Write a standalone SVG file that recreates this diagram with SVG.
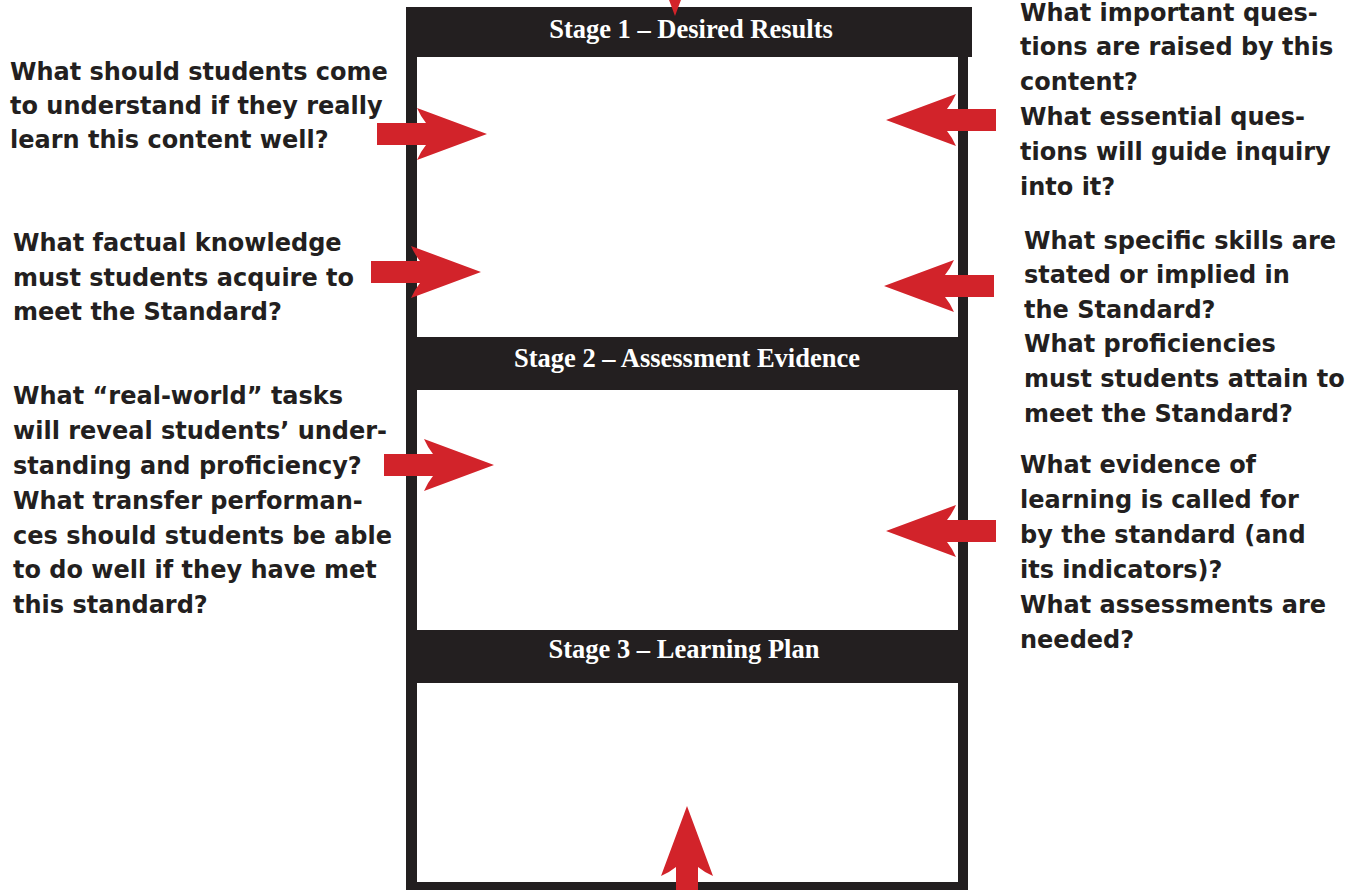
<svg xmlns="http://www.w3.org/2000/svg" xmlns:xlink="http://www.w3.org/1999/xlink" width="1358" height="890" viewBox="0 0 1358 890">
  <style>
    .frame { fill: #231f20; }
    .panel { fill: #ffffff; }
    .head { font-family: "Liberation Serif", "Times New Roman", serif; font-weight: bold; font-size: 26.5px; fill: #ffffff; text-anchor: middle; }
    .q { font-family: "DejaVu Sans", Verdana, sans-serif; font-weight: bold; font-size: 24px; fill: #231f20; }
    .arrow { fill: #d2232a; }
  </style>
  <defs>
    <!-- block arrow, tip at the origin, pointing along +x, with a notched back -->
    <path id="arrow" d="M0,0 L-70,-26 Q-66,-17 -61,-11 L-110,-11 L-110,11 L-61,11 Q-66,17 -70,26 Z"/>
  </defs>

  <rect width="1358" height="890" fill="#ffffff"/>

  <!-- template frame -->
  <g id="frame">
    <rect class="frame" x="406" y="7" width="562" height="883"/>
    <rect class="frame" x="406" y="7" width="566" height="50"/>
  </g>

  <g id="stage1">
    <rect class="panel" x="417" y="57" width="541" height="280"/>
    <text class="head" x="691" y="38">Stage 1 – Desired Results</text>
  </g>

  <g id="stage2">
    <rect class="panel" x="417" y="390" width="541" height="240"/>
    <text class="head" x="687" y="367">Stage 2 – Assessment Evidence</text>
  </g>

  <g id="stage3">
    <rect class="panel" x="417" y="683" width="541" height="199"/>
    <text class="head" x="684" y="658">Stage 3 – Learning Plan</text>
  </g>

  <!-- guiding questions, left side -->
  <g id="q-understand">
    <text class="q" x="10" y="80">What should students come</text>
    <text class="q" x="10" y="114">to understand if they really</text>
    <text class="q" x="10" y="148">learn this content well?</text>
  </g>

  <g id="q-knowledge">
    <text class="q" x="13" y="251">What factual knowledge</text>
    <text class="q" x="13" y="286">must students acquire to</text>
    <text class="q" x="13" y="320">meet the Standard?</text>
  </g>

  <g id="q-tasks">
    <text class="q" x="13" y="404">What “real-world” tasks</text>
    <text class="q" x="13" y="439">will reveal students’ under-</text>
    <text class="q" x="13" y="474">standing and proficiency?</text>
    <text class="q" x="13" y="509">What transfer performan-</text>
    <text class="q" x="13" y="544">ces should students be able</text>
    <text class="q" x="13" y="578">to do well if they have met</text>
    <text class="q" x="13" y="613">this standard?</text>
  </g>

  <!-- guiding questions, right side -->
  <g id="q-questions">
    <text class="q" x="1020" y="21">What important ques-</text>
    <text class="q" x="1020" y="55">tions are raised by this</text>
    <text class="q" x="1020" y="90">content?</text>
    <text class="q" x="1020" y="125">What essential ques-</text>
    <text class="q" x="1020" y="160">tions will guide inquiry</text>
    <text class="q" x="1020" y="195">into it?</text>
  </g>

  <g id="q-skills">
    <text class="q" x="1024" y="249">What specific skills are</text>
    <text class="q" x="1024" y="283">stated or implied in</text>
    <text class="q" x="1024" y="318">the Standard?</text>
    <text class="q" x="1024" y="352">What proficiencies</text>
    <text class="q" x="1024" y="387">must students attain to</text>
    <text class="q" x="1024" y="422">meet the Standard?</text>
  </g>

  <g id="q-evidence">
    <text class="q" x="1020" y="473">What evidence of</text>
    <text class="q" x="1020" y="508">learning is called for</text>
    <text class="q" x="1020" y="543">by the standard (and</text>
    <text class="q" x="1020" y="578">its indicators)?</text>
    <text class="q" x="1020" y="613">What assessments are</text>
    <text class="q" x="1020" y="648">needed?</text>
  </g>

  <!-- arrows -->
  <g id="connectors" class="arrow">
    <use xlink:href="#arrow" href="#arrow" transform="translate(675,16) rotate(90)"/>
    <use xlink:href="#arrow" href="#arrow" transform="translate(487,134)"/>
    <use xlink:href="#arrow" href="#arrow" transform="translate(481,272)"/>
    <use xlink:href="#arrow" href="#arrow" transform="translate(494,465)"/>
    <use xlink:href="#arrow" href="#arrow" transform="translate(886,120) scale(-1,1)"/>
    <use xlink:href="#arrow" href="#arrow" transform="translate(884,286) scale(-1,1)"/>
    <use xlink:href="#arrow" href="#arrow" transform="translate(886,531) scale(-1,1)"/>
    <use xlink:href="#arrow" href="#arrow" transform="translate(687,806) rotate(-90)"/>
  </g>
</svg>
